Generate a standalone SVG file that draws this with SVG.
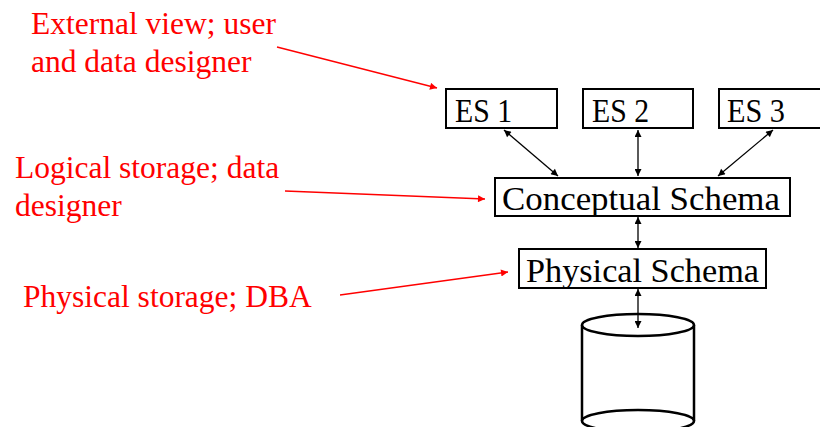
<svg xmlns="http://www.w3.org/2000/svg" width="820" height="427" viewBox="0 0 820 427">
<style>
.box{fill:#fff;stroke:#000;stroke-width:2}
.t{font-family:"Liberation Serif","Times New Roman",serif;font-size:33px;fill:#000}
.r{font-family:"Liberation Serif","Times New Roman",serif;font-size:31.5px;fill:#ff0000}
.c{stroke:#000;stroke-width:1.3;fill:none;marker-start:url(#ab);marker-end:url(#ab)}
.rc{stroke:#ff0000;stroke-width:1.3;fill:none;marker-end:url(#ar)}
.cyl{fill:#fff;stroke:#000;stroke-width:2.5}
</style>
<defs>
<marker id="ab" viewBox="0 0 10 10" refX="10" refY="5" markerWidth="9" markerHeight="7" markerUnits="userSpaceOnUse" orient="auto-start-reverse"><path d="M0,0 L10,5 L0,10 z" fill="#000"/></marker>
<marker id="ar" viewBox="0 0 10 10" refX="10" refY="5" markerWidth="10" markerHeight="7" markerUnits="userSpaceOnUse" orient="auto"><path d="M0,0 L10,5 L0,10 z" fill="#ff0000"/></marker>
</defs>
<g id="label-external"><text class="r" x="31" y="34">External view; user</text><text class="r" x="31" y="72">and data designer</text></g>
<g id="label-logical"><text class="r" x="15" y="178">Logical storage; data</text><text class="r" x="15" y="216">designer</text></g>
<g id="label-physical"><text class="r" x="23" y="307">Physical storage; DBA</text></g>
<g id="es1"><rect class="box" x="446" y="89" width="111" height="39"/><text class="t" x="455" y="122" textLength="57" lengthAdjust="spacingAndGlyphs">ES 1</text></g>
<g id="es2"><rect class="box" x="583" y="89" width="110" height="39"/><text class="t" x="592" y="122" textLength="57" lengthAdjust="spacingAndGlyphs">ES 2</text></g>
<g id="es3"><rect class="box" x="719" y="89" width="111" height="39"/><text class="t" x="727" y="122" textLength="58" lengthAdjust="spacingAndGlyphs">ES 3</text></g>
<g id="conceptual"><rect class="box" x="495" y="178" width="295" height="38"/><text class="t" x="502" y="210" textLength="278" lengthAdjust="spacingAndGlyphs">Conceptual Schema</text></g>
<g id="physical"><rect class="box" x="519" y="249" width="247" height="39"/><text class="t" x="526" y="282" textLength="233" lengthAdjust="spacingAndGlyphs">Physical Schema</text></g>
<g id="database">
<path class="cyl" d="M582,325 L582,421 M694,325 L694,421"/>
<ellipse class="cyl" cx="638" cy="421" rx="56" ry="11"/>
<ellipse class="cyl" cx="638" cy="325" rx="56" ry="11"/>
</g>
<g id="connectors">
<line class="c" x1="504" y1="130" x2="558" y2="176"/>
<line class="c" x1="638" y1="130" x2="638" y2="176"/>
<line class="c" x1="773" y1="130" x2="718" y2="176"/>
<line class="c" x1="638" y1="217" x2="638" y2="248"/>
<line class="c" x1="638" y1="289" x2="638" y2="328"/>
<line class="rc" x1="277" y1="47" x2="437" y2="88"/>
<line class="rc" x1="285" y1="191" x2="485" y2="199"/>
<line class="rc" x1="340" y1="295" x2="508" y2="272"/>
</g>
</svg>
